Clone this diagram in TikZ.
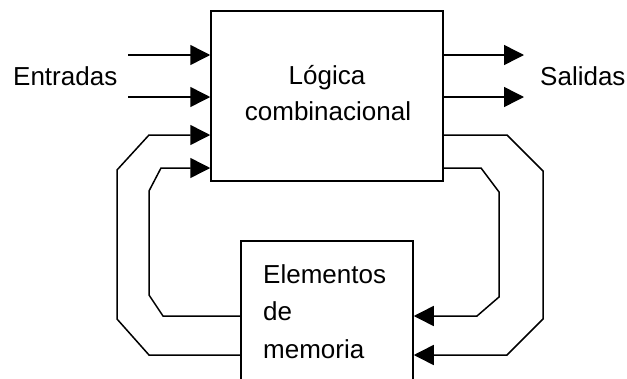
\documentclass[tikz,border=0pt]{standalone}
\usepackage{fontspec}
\setmainfont{Liberation Sans}
\usetikzlibrary{arrows.meta}
\begin{document}
\begin{tikzpicture}[x=1pt,y=-1pt,
  box/.style={draw, line width=1.5pt, inner sep=0pt},
  wire/.style={line width=1.5pt, line join=miter},
  arr/.style={wire, -{Triangle[length=20pt,width=20pt]}},
  txt/.style={inner sep=0pt, font=\fontsize{26}{36}\selectfont}]
\useasboundingbox (0,0) rectangle (627,378);
\clip (0,0) rectangle (627,378);
\node[box, minimum width=232pt, minimum height=170pt] (logic) at (327,96) {};
\node[box, minimum width=172pt, minimum height=179pt] (mem) at (327,330.5) {};
\node[txt, anchor=base] (t1) at (327,84) {Lógica};
\node[txt, anchor=base] (t2) at (328,120) {combinacional};
\node[txt, anchor=base west] (t3) at (263,283) {Elementos};
\node[txt, anchor=base west] (t4) at (263,320) {de};
\node[txt, anchor=base west] (t5) at (263,358) {memoria};
\node[txt, anchor=base west] (ent) at (13,85) {Entradas};
\node[txt, anchor=base west] (sal) at (540,85) {Salidas};
\coordinate (y55) at (0,55);
\coordinate (y97) at (0,97);
\coordinate (y135) at (0,135);
\coordinate (y168) at (0,168);
\coordinate (y316) at (0,316);
\coordinate (y355) at (0,355);
\coordinate (i1) at (128,55);
\coordinate (i2) at (128,97);
\coordinate (o1) at (524,55);
\coordinate (o2) at (524,97);
% inputs and outputs
\draw[arr] (i1) -- (logic.west |- y55);
\draw[arr] (i2) -- (logic.west |- y97);
\draw[arr] (logic.east |- y55) -- (o1);
\draw[arr] (logic.east |- y97) -- (o2);
% right feedback
\draw[arr] (logic.east |- y135) -- (507,135) -- (543,171) -- (543,319) -- (507,355) -- (mem.east |- y355);
\draw[arr] (logic.east |- y168) -- (481,168) -- (499,192) -- (499,297) -- (477,316) -- (mem.east |- y316);
% left feedback
\draw[arr] (mem.west |- y355) -- (149,355) -- (117,319) -- (117,170) -- (149,135) -- (logic.west |- y135);
\draw[arr] (mem.west |- y316) -- (163,316) -- (149,295) -- (149,191) -- (161,168) -- (logic.west |- y168);
\end{tikzpicture}
\end{document}
